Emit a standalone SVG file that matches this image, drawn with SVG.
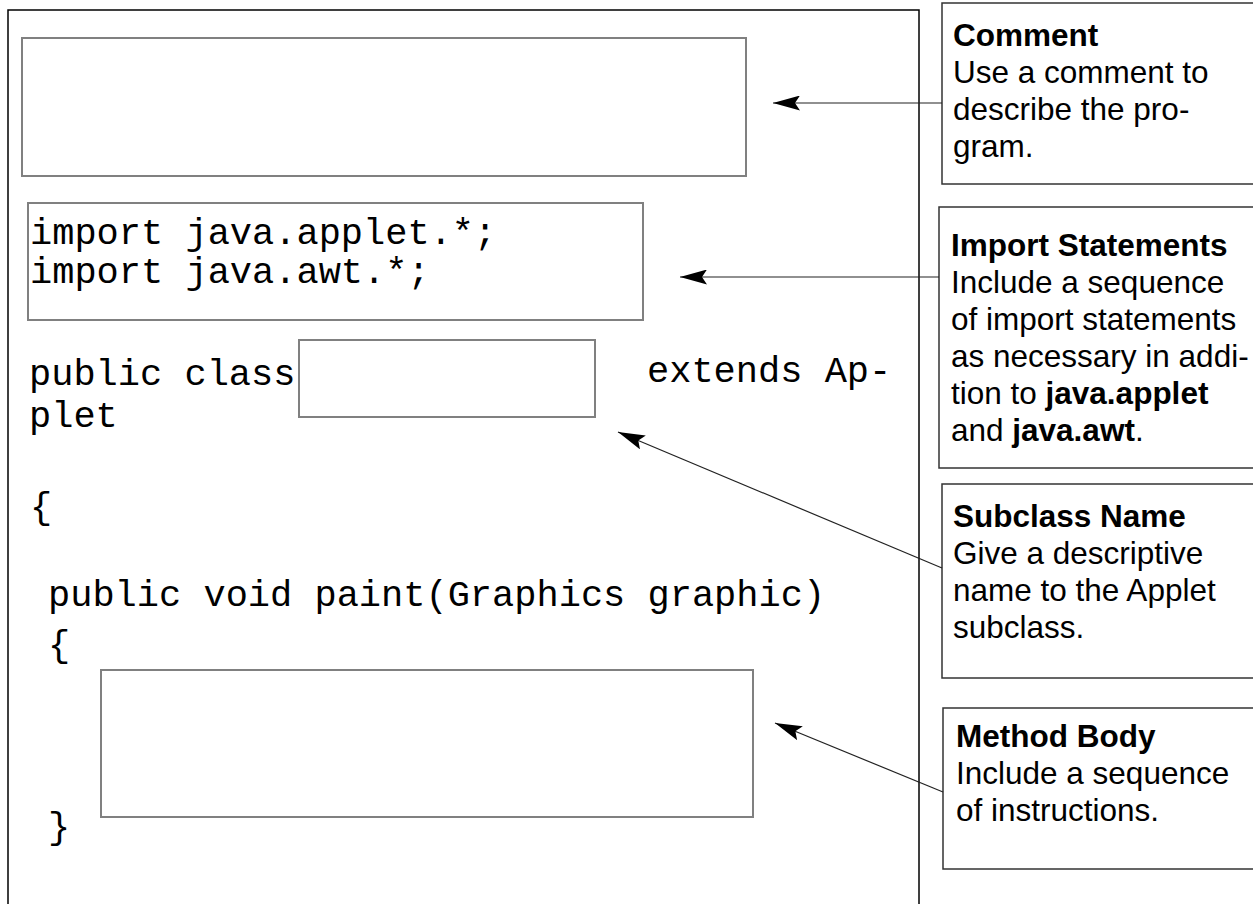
<svg xmlns="http://www.w3.org/2000/svg" width="1253" height="904" viewBox="0 0 1253 904">
  <defs>
    <style>
      .frame { fill: none; stroke: #000; stroke-width: 1.5; }
      .slot { fill: none; stroke: #808080; stroke-width: 2; }
      .note { fill: #fff; stroke: #333; stroke-width: 1.5; }
      .code { font-family: "Liberation Mono", "Courier New", monospace; font-size: 37px; fill: #000; }
      .txt { font-family: "Liberation Sans", Arial, sans-serif; font-size: 31.5px; fill: #000; }
      .b { font-weight: bold; }
      .wire { fill: none; stroke: #222; stroke-width: 1.2; marker-end: url(#head); }
    </style>
    <marker id="head" markerUnits="userSpaceOnUse" viewBox="0 0 27 15" markerWidth="27" markerHeight="15" refX="27" refY="7.5" orient="auto">
      <path d="M0,0 L27,7.5 L0,15 L5,7.5 Z" fill="#000"/>
    </marker>
  </defs>
  <rect width="1253" height="904" fill="#fff"/>

  <!-- applet source template -->
  <g id="applet-frame">
    <rect class="frame" x="8" y="10" width="911" height="910"/>
  </g>
  <g id="comment-slot">
    <rect class="slot" x="22" y="38" width="724" height="138"/>
  </g>
  <g id="import-slot">
    <rect class="slot" x="28" y="203" width="615" height="117"/>
    <text class="code" x="30" y="244">import java.applet.*;</text>
    <text class="code" x="30" y="283">import java.awt.*;</text>
  </g>
  <g id="class-line">
    <text class="code" x="29" y="385">public class</text>
    <rect class="slot" x="299" y="340" width="296" height="77"/>
    <text class="code" x="647" y="382">extends Ap-</text>
    <text class="code" x="29" y="427">plet</text>
    <text class="code" x="30" y="518">{</text>
  </g>
  <g id="paint-method">
    <text class="code" x="48" y="606">public void paint(Graphics graphic)</text>
    <text class="code" x="48" y="656">{</text>
    <rect class="slot" x="101" y="670" width="652" height="147"/>
    <text class="code" x="48" y="838">}</text>
  </g>

  <!-- annotations -->
  <g id="note-comment">
    <rect class="note" x="942" y="3" width="320" height="181"/>
    <text class="txt" x="953"><tspan class="b" x="953" y="46">Comment</tspan><tspan x="953" y="83">Use a comment to</tspan><tspan x="953" y="120">describe the pro-</tspan><tspan x="953" y="157">gram.</tspan></text>
  </g>
  <g id="note-imports">
    <rect class="note" x="939" y="207" width="323" height="261"/>
    <text class="txt" x="951"><tspan class="b" x="951" y="256">Import Statements</tspan><tspan x="951" y="293">Include a sequence</tspan><tspan x="951" y="330">of import statements</tspan><tspan x="951" y="367">as necessary in addi-</tspan><tspan x="951" y="404">tion to <tspan class="b">java.applet</tspan></tspan><tspan x="951" y="441">and <tspan class="b">java.awt</tspan>.</tspan></text>
  </g>
  <g id="note-subclass">
    <rect class="note" x="942" y="484" width="320" height="194"/>
    <text class="txt" x="953"><tspan class="b" x="953" y="527">Subclass Name</tspan><tspan x="953" y="564">Give a descriptive</tspan><tspan x="953" y="601">name to the Applet</tspan><tspan x="953" y="638">subclass.</tspan></text>
  </g>
  <g id="note-body">
    <rect class="note" x="943" y="708" width="319" height="161"/>
    <text class="txt" x="956"><tspan class="b" x="956" y="747">Method Body</tspan><tspan x="956" y="784">Include a sequence</tspan><tspan x="956" y="821">of instructions.</tspan></text>
  </g>

  <g id="connectors">
    <path class="wire" d="M942,103 L773,103"/>
    <path class="wire" d="M939,277 L680,277"/>
    <path class="wire" d="M942,568 L618,432"/>
    <path class="wire" d="M943,792 L775,723"/>
  </g>
</svg>
